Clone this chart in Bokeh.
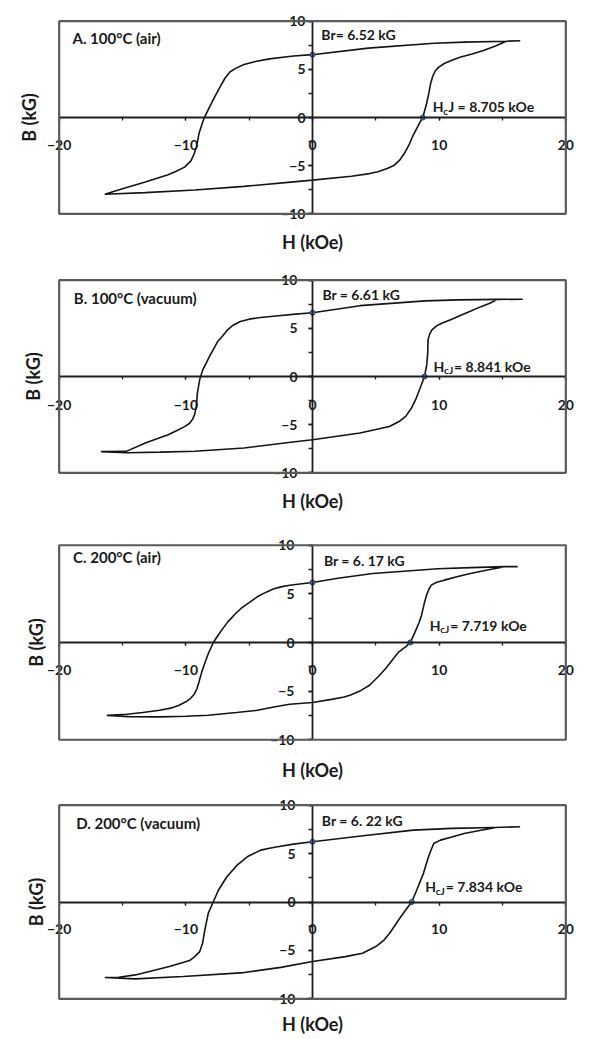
from bokeh.plotting import figure
from bokeh.models import LinearAxis, SingleIntervalTicker, FixedTicker, ColumnDataSource, BoxAnnotation
from bokeh.layouts import column
from bokeh.core.properties import value
from bokeh.embed import file_html
from bokeh.resources import INLINE

# ---------------- data ----------------
# Panel A: 100 C (air)
hA_desc = [16.4, 15.3, 12.0, 9.6, 4.4, 0.0, -1.5, -3.4, -4.5, -5.4, -6.0, -6.5, -6.9, -7.2, -7.7, -8.2, -8.6,
           -8.95, -9.15, -9.35, -9.6, -10.1, -10.8, -11.4, -13.2, -15.0, -16.4]
bA_desc = [7.97, 7.92, 7.82, 7.7, 7.2, 6.52, 6.38, 6.08, 5.82, 5.5, 5.15, 4.75, 4.1, 3.4, 2.2, 0.9, -0.2,
           -1.6, -3.0, -3.8, -4.5, -5.15, -5.6, -5.95, -6.7, -7.4, -7.96]
hA_asc = [-16.4, -13.2, -9.3, -5.4, -1.5, 0.0, 3.07, 4.5, 5.16, 5.9, 6.46, 6.9, 7.24, 7.6, 7.89, 8.2, 8.5,
          8.705, 9.0, 9.2, 9.32, 9.5, 9.7, 10.0, 10.4, 11.0, 11.7, 12.6, 13.5, 14.4, 15.3]
bA_asc = [-7.96, -7.8, -7.52, -7.15, -6.68, -6.5, -6.09, -5.82, -5.62, -5.3, -4.95, -4.4, -3.74, -2.9, -2.0,
          -1.2, -0.45, 0.0, 1.4, 2.6, 3.5, 4.3, 4.85, 5.25, 5.6, 5.95, 6.27, 6.6, 6.96, 7.4, 7.92]
brA, hcjA = 6.52, 8.705

# Panel B: 100 C (vacuum)
hB_desc = [16.6, 14.6, 11.5, 8.9, 3.75, 0.0, -1.55, -2.7, -4.1, -5.0, -5.7, -6.3, -6.7, -7.1, -7.5, -8.14,
           -8.66, -8.91, -9.09, -9.17, -9.3, -9.45, -9.7, -10.1, -10.7, -11.4, -13.2, -14.7, -16.7]
bB_desc = [8.02, 8.0, 7.95, 7.85, 7.35, 6.61, 6.45, 6.3, 6.12, 5.95, 5.7, 5.3, 4.84, 4.2, 3.6, 2.07,
           0.69, -0.34, -1.72, -3.1, -3.9, -4.4, -4.85, -5.2, -5.6, -6.04, -6.9, -7.77, -7.8]
hB_asc = [-16.7, -14.7, -12.0, -9.3, -5.4, -1.55, 0.0, 3.75, 5.0, 6.07, 6.8, 7.36, 7.8, 8.14, 8.5, 8.841,
          9.02, 9.1, 9.12, 9.25, 9.43, 9.8, 10.2, 11.0, 11.76, 12.5, 13.3, 14.0, 14.6]
bB_asc = [-7.8, -7.92, -7.85, -7.75, -7.42, -6.8, -6.56, -5.87, -5.5, -5.18, -4.7, -4.14, -3.3, -2.41, -1.2,
          0.0, 1.2, 2.5, 3.8, 4.4, 4.84, 5.25, 5.53, 5.95, 6.39, 6.8, 7.25, 7.6, 8.0]
brB, hcjB = 6.61, 8.841

# Panel C: 200 C (air)
hC_desc = [16.2, 15.2, 12.5, 9.9, 4.76, 2.0, 0.0, -1.0, -1.8, -2.5, -3.1, -3.7, -4.36, -5.0, -5.65, -6.2,
           -6.68, -7.1, -7.45, -7.83, -8.22, -8.5, -8.74, -8.95, -9.12, -9.35, -9.64, -10.0, -10.53, -11.2,
           -12.07, -13.4, -14.65, -16.2]
bC_desc = [7.8, 7.8, 7.7, 7.58, 7.1, 6.6, 6.17, 6.02, 5.88, 5.72, 5.5, 5.15, 4.7, 4.1, 3.5, 2.8,
           2.12, 1.4, 0.75, 0.0, -1.13, -2.1, -3.02, -4.0, -4.73, -5.35, -5.76, -6.1, -6.45, -6.75,
           -6.97, -7.2, -7.38, -7.48]
hC_asc = [-16.2, -14.5, -12.07, -10.0, -8.22, -6.0, -4.36, -2.95, -1.8, 0.0, 1.5, 2.5, 2.96, 3.8, 4.5, 5.2,
          5.78, 6.3, 6.82, 7.4, 7.719, 8.1, 8.4, 8.61, 8.8, 9.0, 9.2, 9.38, 9.8, 10.4, 11.4, 12.47, 13.8, 15.17]
bC_asc = [-7.5, -7.62, -7.65, -7.58, -7.48, -7.2, -6.97, -6.6, -6.35, -6.17, -5.85, -5.6, -5.42, -4.95, -4.39,
          -3.5, -2.67, -1.8, -0.96, -0.4, 0.0, 1.09, 2.0, 2.81, 3.9, 4.87, 5.5, 5.9, 6.2, 6.41, 6.75, 7.1, 7.45, 7.78]
brC, hcjC = 6.17, 7.719

# Panel D: 200 C (vacuum)
hD_desc = [16.39, 14.38, 11.0, 7.96, 4.0, 0.0, -1.5, -2.74, -3.4, -4.08, -5.15, -5.95, -6.76, -7.42, -7.83,
           -8.23, -8.5, -8.68, -8.9, -9.3, -9.7, -11.3, -13.98, -15.3, -16.4]
bD_desc = [7.77, 7.7, 7.6, 7.42, 6.85, 6.22, 5.98, 5.7, 5.55, 5.36, 4.67, 3.81, 2.61, 1.24, 0.03,
           -1.17, -2.89, -4.26, -5.12, -5.64, -6.05, -6.67, -7.53, -7.77, -7.8]
hD_asc = [-16.4, -14.0, -10.2, -5.4, -2.5, 0.0, 2.6, 3.95, 5.0, 5.6, 6.09, 6.89, 7.4, 7.834, 8.23, 8.76,
          9.16, 9.4, 9.57, 10.1, 11.0, 11.97, 13.2, 14.38]
bD_asc = [-7.8, -7.94, -7.7, -7.29, -6.75, -6.15, -5.64, -5.29, -4.6, -4.0, -3.23, -1.68, -0.75, 0.0, 1.24,
          2.96, 4.67, 5.5, 6.05, 6.39, 6.72, 7.08, 7.38, 7.66]
brD, hcjD = 6.22, 7.834

titles = ["A. 100°C (air)", "B. 100°C (vacuum)", "C. 200°C (air)", "D. 200°C (vacuum)"]
br_texts = ["Br= 6.52 kG", "Br = 6.61 kG", "Br = 6. 17 kG", "Br = 6. 22 kG"]
hc_subs = ["c", "cJ", "cJ", "cJ"]
hc_rests = ["J = 8.705 kOe", " = 8.841 kOe", " = 7.719 kOe", " = 7.834 kOe"]
x_label = "H (kOe)"
y_label = "B (kG)"
H_MIN, H_MAX = -20, 20
B_MIN, B_MAX = -10, 10

# ---------------- layout / style ----------------
FONT_NAME = "Lato"
FONT = value(FONT_NAME)
TXT = "#1a1a1a"
W = 592
PAD = 1.0   # free room (data units) around the plot box so edge tick labels are not clipped
layout_cfg = [
    dict(height=266, left=40, right=14, top=11, bottom=43, xstand=19, xlab=7, ylab=7, ystand=3,
         title_xy=(-18.95, 8.26), br_xy=(0.7, 8.62), hc_xy=(9.49, 1.09), sub_w=5),
    dict(height=265, left=44, right=6, top=4, bottom=49, xstand=20, xlab=7, ylab=3, ystand=11,
         title_xy=(-18.84, 8.12), br_xy=(0.78, 8.47), hc_xy=(9.56, 1.04), sub_w=10),
    dict(height=261, left=46, right=1, top=4, bottom=43, xstand=19, xlab=9, ylab=0, ystand=14,
         title_xy=(-18.9, 8.8), br_xy=(0.9, 8.47), hc_xy=(9.25, 1.78), sub_w=10),
    dict(height=245, left=46, right=0, top=3, bottom=29, xstand=19, xlab=4, ylab=0, ystand=13,
         title_xy=(-18.66, 8.11), br_xy=(0.74, 8.38), hc_xy=(8.9, 1.58), sub_w=10),
]


def make_panel(h_desc, b_desc, h_asc, b_asc, br, hcj, title, br_text, hc_sub, hc_rest, cfg):
    p = figure(width=W, height=cfg["height"],
               x_range=(H_MIN - PAD, H_MAX + PAD), y_range=(B_MIN - PAD, B_MAX + PAD),
               x_axis_location=None, y_axis_location=None, toolbar_location=None,
               output_backend="svg", min_border_left=cfg["left"], min_border_right=cfg["right"],
               min_border_top=cfg["top"], min_border_bottom=cfg["bottom"])
    p.xgrid.visible = False
    p.ygrid.visible = False
    p.outline_line_color = None
    p.background_fill_color = "white"
    p.border_fill_color = "white"

    # plot-area box
    p.add_layout(BoxAnnotation(left=H_MIN, right=H_MAX, bottom=B_MIN, top=B_MAX,
                               fill_alpha=0, line_color="#5a5a5a", line_alpha=1.0, line_width=2.2))

    # axes crossing at the origin
    xa = LinearAxis(fixed_location=0, bounds=(H_MIN, H_MAX),
                    ticker=SingleIntervalTicker(interval=10, num_minor_ticks=2))
    ya = LinearAxis(fixed_location=0, bounds=(B_MIN, B_MAX),
                    ticker=SingleIntervalTicker(interval=5, num_minor_ticks=2))
    for ax in (xa, ya):
        ax.axis_line_color = "#1e1e1e"
        ax.axis_line_width = 1.8
        ax.major_tick_line_color = "#1e1e1e"
        ax.minor_tick_line_color = "#1e1e1e"
        ax.major_tick_line_width = 1.3
        ax.minor_tick_line_width = 1.3
        ax.major_tick_in = 0
        ax.minor_tick_in = 0
        ax.major_label_text_font = FONT_NAME
        ax.major_label_text_font_style = "bold"
        ax.major_label_text_font_size = "14px"
        ax.major_label_text_color = TXT
    xa.major_tick_out = 3
    xa.minor_tick_out = 3
    xa.major_label_standoff = cfg["xstand"]
    ya.major_tick_out = 4
    ya.minor_tick_out = 4
    ya.major_label_standoff = cfg["ystand"]
    p.add_layout(xa, "below")
    p.add_layout(ya, "left")

    # axis titles outside the box
    xt = LinearAxis(ticker=FixedTicker(ticks=[]), axis_label=x_label)
    yt = LinearAxis(ticker=FixedTicker(ticks=[]), axis_label=y_label)
    for ax, st in ((xt, cfg["xlab"]), (yt, cfg["ylab"])):
        ax.axis_line_color = None
        ax.major_tick_line_color = None
        ax.minor_tick_line_color = None
        ax.major_tick_out = 0
        ax.minor_tick_out = 0
        ax.major_label_standoff = 0
        ax.axis_label_standoff = st
        ax.axis_label_text_font = FONT_NAME
        ax.axis_label_text_font_style = "bold"
        ax.axis_label_text_font_size = "18px"
        ax.axis_label_text_color = TXT
    p.add_layout(xt, "below")
    p.add_layout(yt, "left")

    # hysteresis loop
    src = ColumnDataSource(dict(h=h_desc + h_asc, b=b_desc + b_asc))
    p.line("h", "b", source=src, line_color="#141414", line_width=1.6)

    # remanence and coercivity points
    p.scatter(x=[0, hcj], y=[br, 0], size=5, marker="circle",
              fill_color="#5b84b1", line_color="#1f3864", line_width=1)

    # texts
    tx, ty = cfg["title_xy"]
    p.text(x=[tx], y=[ty], text=[title], text_font=FONT, text_font_style="bold",
           text_font_size="15px", text_color=TXT, text_baseline="middle", text_align="left")
    bx, by = cfg["br_xy"]
    p.text(x=[bx], y=[by], text=[br_text], text_font=FONT, text_font_style="bold",
           text_font_size="14px", text_color=TXT, text_baseline="middle", text_align="left")
    hx, hy = cfg["hc_xy"]
    p.text(x=[hx], y=[hy], text=["H"], text_font=FONT, text_font_style="bold",
           text_font_size="14px", text_color=TXT, text_baseline="middle", text_align="left")
    p.text(x=[hx], y=[hy], text=[hc_sub], x_offset=10.5, y_offset=4, text_font=FONT,
           text_font_style="bold", text_font_size="10px", text_color=TXT,
           text_baseline="middle", text_align="left")
    p.text(x=[hx], y=[hy], text=[hc_rest], x_offset=10.5 + cfg["sub_w"], text_font=FONT,
           text_font_style="bold", text_font_size="14px", text_color=TXT,
           text_baseline="middle", text_align="left")
    return p


pA = make_panel(hA_desc, bA_desc, hA_asc, bA_asc, brA, hcjA, titles[0], br_texts[0], hc_subs[0], hc_rests[0], layout_cfg[0])
pB = make_panel(hB_desc, bB_desc, hB_asc, bB_asc, brB, hcjB, titles[1], br_texts[1], hc_subs[1], hc_rests[1], layout_cfg[1])
pC = make_panel(hC_desc, bC_desc, hC_asc, bC_asc, brC, hcjC, titles[2], br_texts[2], hc_subs[2], hc_rests[2], layout_cfg[2])
pD = make_panel(hD_desc, bD_desc, hD_asc, bD_asc, brD, hcjD, titles[3], br_texts[3], hc_subs[3], hc_rests[3], layout_cfg[3])

page = column(pA, pB, pC, pD, spacing=0)
open("out.html", "w").write(file_html(page, INLINE))
